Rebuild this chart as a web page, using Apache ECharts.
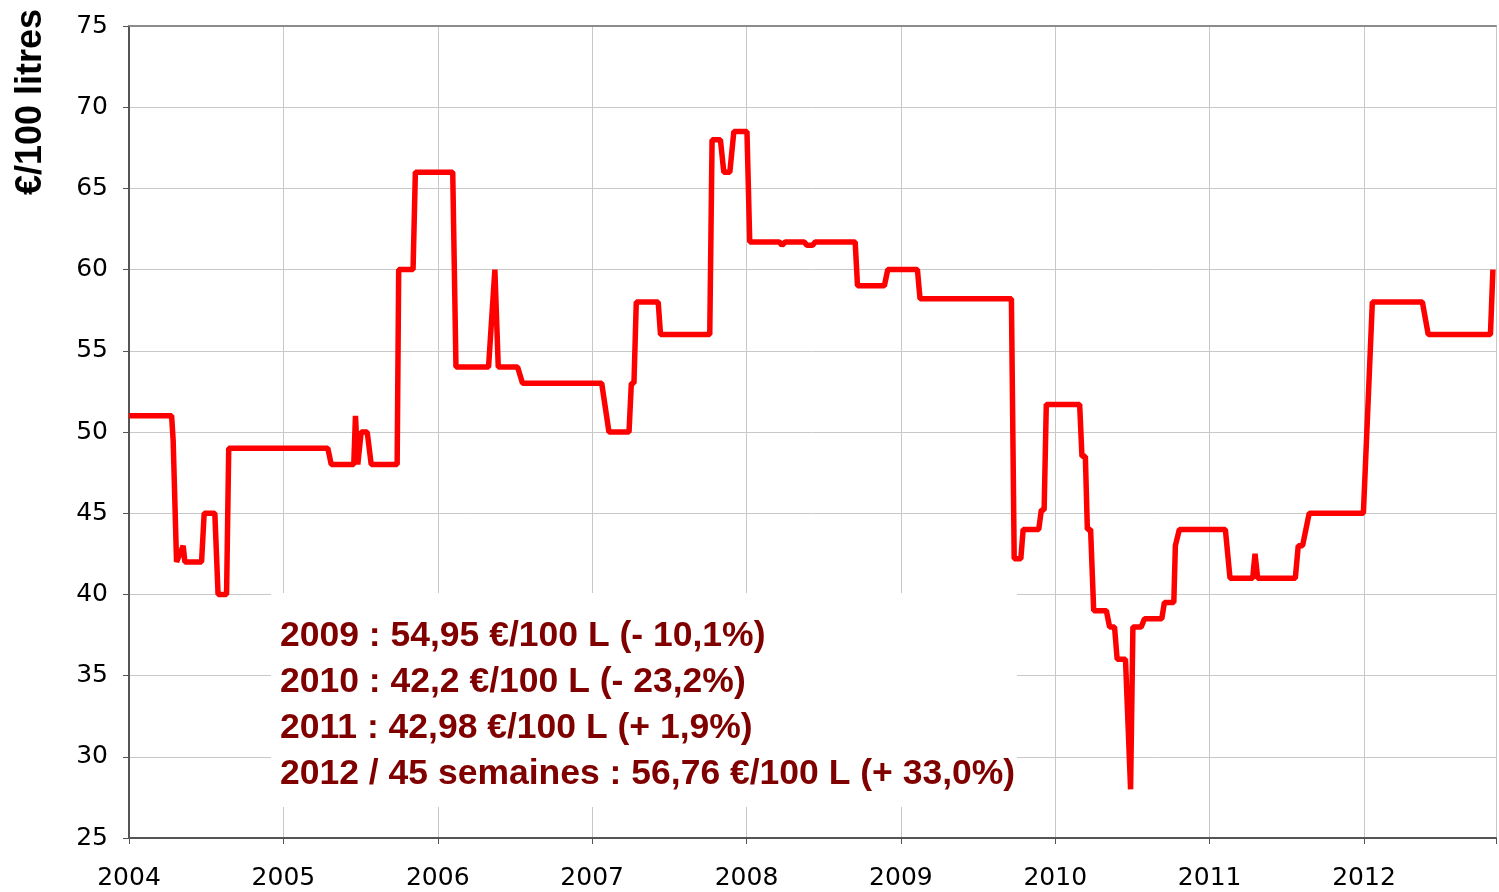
<!DOCTYPE html>
<html>
<head>
<meta charset="utf-8">
<script src="https://cdn.jsdelivr.net/npm/echarts@6/dist/echarts.min.js"></script>
<style>
  html, body { margin: 0; padding: 0; background: #fff; }
  #main { width: 1499px; height: 892px; }
</style>
</head>
<body>
<div id="main"></div>
<script type="text/javascript">
// weekly barley price, decimal years (breakpoints of the step line)
var dates = [2004.000, 2004.276, 2004.286, 2004.297, 2004.308, 2004.351, 2004.362, 2004.470, 2004.487, 2004.556, 2004.577, 2004.632, 2004.646, 2005.288, 2005.310, 2005.456, 2005.467, 2005.482, 2005.504, 2005.543, 2005.569, 2005.737, 2005.747, 2005.840, 2005.855,
  2006.097, 2006.118, 2006.329, 2006.370, 2006.392, 2006.517, 2006.549, 2007.062, 2007.109, 2007.239, 2007.254, 2007.271, 2007.286, 2007.428, 2007.443, 2007.762, 2007.777, 2007.831, 2007.853, 2007.892, 2007.918,
  2008.003, 2008.021, 2008.213, 2008.230, 2008.251, 2008.374, 2008.391, 2008.428, 2008.445, 2008.704, 2008.719, 2008.893, 2008.915, 2009.107, 2009.124, 2009.716, 2009.734, 2009.777, 2009.792, 2009.893, 2009.910, 2009.928, 2009.942,
  2010.158, 2010.173, 2010.195, 2010.208, 2010.229, 2010.249, 2010.331, 2010.352, 2010.384, 2010.401, 2010.455, 2010.488, 2010.503, 2010.557, 2010.578, 2010.690, 2010.707, 2010.768, 2010.778, 2010.804, 2011.102, 2011.132, 2011.279, 2011.294, 2011.311, 2011.555, 2011.574, 2011.602, 2011.645, 2011.996, 2012.054, 2012.378, 2012.416, 2012.819, 2012.835];

var prices = [51, 51, 49.5, 49.5, 42, 43, 42, 42, 45, 45, 40, 40, 49, 49, 48, 48, 51, 48, 50, 50, 48, 48, 60, 60, 66,
  66, 54, 54, 60, 54, 54, 53, 53, 50, 50, 53, 53, 58, 58, 56, 56, 68, 68, 66, 66, 68.5,
  68.5, 61.7, 61.7, 61.5, 61.7, 61.7, 61.5, 61.5, 61.7, 61.7, 59, 59, 60, 60, 58.2, 58.2, 42.2, 42.2, 44, 44, 45.2, 45.2, 51.7,
  51.7, 48.5, 48.5, 44, 44, 39, 39, 38, 38, 36, 36, 28, 38, 38, 38.5, 38.5, 39.5, 39.5, 43, 44, 44, 41, 41, 42.5, 41, 41, 43, 43, 45, 45, 58, 58, 56, 56, 60];

var yearTicks = [2004, 2005, 2006, 2007, 2008, 2009, 2010, 2011, 2012];

var notes = [
  '2009 : 54,95 €/100 L (- 10,1%)',
  '2010 : 42,2 €/100 L (- 23,2%)',
  '2011 : 42,98 €/100 L (+ 1,9%)',
  '2012 / 45 semaines : 56,76 €/100 L (+ 33,0%)'
];

var yName = '€/100 litres';

var points = [];
for (var i = 0; i < Math.min(dates.length, prices.length); i++) {
  points.push([dates[i], prices[i]]);
}

var noteTexts = notes.map(function (t, k) {
  return {
    type: 'text',
    left: 280,
    top: 618 + k * 46,
    z: 20,
    style: {
      text: t,
      fill: '#800000',
      font: 'bold 35.5px "Liberation Sans", Arial, sans-serif'
    }
  };
});

var myChart = echarts.init(document.getElementById('main'));
var option = {
  animation: false,
  backgroundColor: '#fff',
  grid: { left: 129, top: 26, right: 0, bottom: 54 },
  xAxis: [
    {
      type: 'value',
      min: 2004,
      max: 2012.855,
      interval: 1,
      axisLine: { show: true, lineStyle: { color: '#555', width: 2 } },
      axisTick: { show: true, length: 6, lineStyle: { color: '#555' } },
      axisLabel: {
        margin: 28,
        color: '#000',
        fontSize: 25,
        fontFamily: 'DejaVu Sans',
        formatter: function (v) { return yearTicks.indexOf(v) >= 0 ? String(v) : ''; }
      },
      splitLine: { show: true, lineStyle: { color: '#c8c8c8', width: 1 } }
    },
    {
      type: 'value',
      position: 'top',
      min: 2004,
      max: 2012.855,
      axisLine: { show: true, onZero: false, lineStyle: { color: '#8c8c8c', width: 2 } },
      axisTick: { show: false },
      axisLabel: { show: false },
      splitLine: { show: false }
    }
  ],
  yAxis: {
    type: 'value',
    min: 25,
    max: 75,
    interval: 5,
    axisLine: { show: true, lineStyle: { color: '#555', width: 2 } },
    axisTick: { show: true, length: 6, lineStyle: { color: '#555' } },
    axisLabel: {
      margin: 21,
      color: '#000',
      fontSize: 25,
      fontFamily: 'DejaVu Sans'
    },
    splitLine: { show: true, lineStyle: { color: '#c8c8c8', width: 1 } }
  },
  graphic: [
    {
      type: 'rect',
      shape: { x: 271, y: 593, width: 746, height: 214 },
      z: 10,
      style: { fill: '#fff' }
    },
    {
      type: 'text',
      x: 31,
      y: 102,
      rotation: Math.PI / 2,
      z: 20,
      style: {
        text: yName,
        fill: '#000',
        font: 'bold 36px "Liberation Sans", Arial, sans-serif',
        align: 'center',
        verticalAlign: 'middle'
      }
    }
  ].concat(noteTexts),
  series: [
    {
      name: 'orge',
      type: 'line',
      data: points,
      showSymbol: false,
      lineStyle: { color: '#ff0000', width: 5.5 },
      z: 30
    }
  ]
};
myChart.setOption(option);
</script>
</body>
</html>
